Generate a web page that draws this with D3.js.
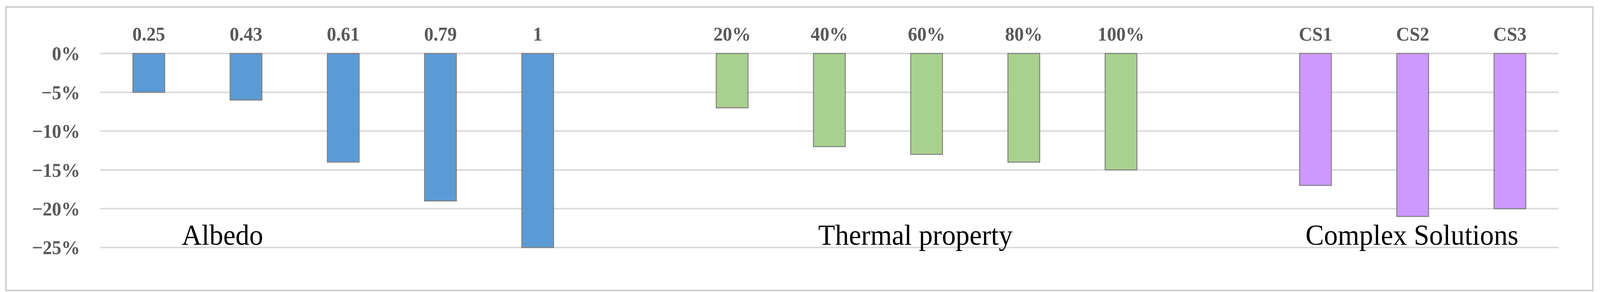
<!DOCTYPE html>
<html lang="en">
<head>
  <meta charset="UTF-8">
  <title>Reduction by solution</title>
  <script src="https://d3js.org/d3.v7.min.js"></script>
  <style>
    html, body { margin: 0; padding: 0; overflow: hidden; background: #fff; }
    #chart { display: block; width: 100vw; height: 100vh; }
    .tick-label { font-family: "Liberation Serif", serif; font-weight: bold; fill: #595959; font-size: 50px; }
    .group-label { font-family: "Liberation Serif", serif; fill: #000; font-size: 74px; text-anchor: middle; }
  </style>
</head>
<body>
  <svg id="chart" viewBox="0 0 4278 748" preserveAspectRatio="none"></svg>
  <script>
    // Data (blank slots "" act as gaps between groups)
    const categories = ["0.25", "0.43", "0.61", "0.79", "1", "", "20%", "40%", "60%", "80%", "100%", "", "CS1", "CS2", "CS3"];
    const values = [-5, -6, -14, -19, -25, null, -7, -12, -13, -14, -15, null, -17, -21, -20];
    const groups = ["A", "A", "A", "A", "A", "", "T", "T", "T", "T", "T", "", "C", "C", "C"];
    const groupNames = [{ key: "A", name: "Albedo", at: "0.61", dx: -323 }, { key: "T", name: "Thermal property", at: "60%", dx: -30 }, { key: "C", name: "Complex Solutions", at: "CS2", dx: -2 }];
    const colors = { A: "#5B9BD5", T: "#A9D18E", C: "#CC99FF" };
    const yTicks = [0, -5, -10, -15, -20, -25];

    const svg = d3.select("#chart");
    const margin = { left: 268, right: 111, top: 137 };
    const x = d3.scaleBand().domain(d3.range(categories.length)).range([margin.left, 4278 - margin.right]).paddingInner(0.673).paddingOuter(0.336);
    const y = d3.scaleLinear().domain([0, -25]).range([137, 634]);

    // Frame
    svg.append("rect").attr("x", 16).attr("y", 18).attr("width", 4243).attr("height", 726)
      .attr("fill", "none").attr("stroke", "#bfbfbf").attr("stroke-width", 3);

    // Gridlines
    svg.selectAll(".grid").data(yTicks).enter().append("line")
      .attr("x1", margin.left).attr("x2", 4278 - margin.right)
      .attr("y1", d => y(d)).attr("y2", d => y(d))
      .attr("stroke", "#d9d9d9").attr("stroke-width", 4);

    // Y tick labels
    svg.selectAll(".ylab").data(yTicks).enter().append("text")
      .attr("class", "tick-label").attr("x", 214).attr("y", d => y(d)).attr("dy", "0.35em")
      .attr("text-anchor", "end").text(d => (d < 0 ? "\u2212" + (-d) : d) + "%");

    // Bars
    const idx = d3.range(categories.length).filter(i => values[i] !== null);
    svg.selectAll(".bar").data(idx).enter().append("rect")
      .attr("x", i => x(i)).attr("width", x.bandwidth())
      .attr("y", y(0)).attr("height", i => y(values[i]) - y(0))
      .attr("fill", i => colors[groups[i]]).attr("stroke", "#7f7f7f").attr("stroke-width", 2.5);

    // Category labels on top
    svg.selectAll(".xlab").data(idx).enter().append("text")
      .attr("class", "tick-label").attr("text-anchor", "middle")
      .attr("x", i => x(i) + x.bandwidth() / 2).attr("y", 104).text(i => categories[i]);

    // Group labels
    svg.selectAll(".glab").data(groupNames).enter().append("text")
      .attr("class", "group-label")
      .attr("x", d => x(categories.indexOf(d.at)) + x.bandwidth() / 2 + d.dx)
      .attr("y", 627).text(d => d.name);
  </script>
</body>
</html>
